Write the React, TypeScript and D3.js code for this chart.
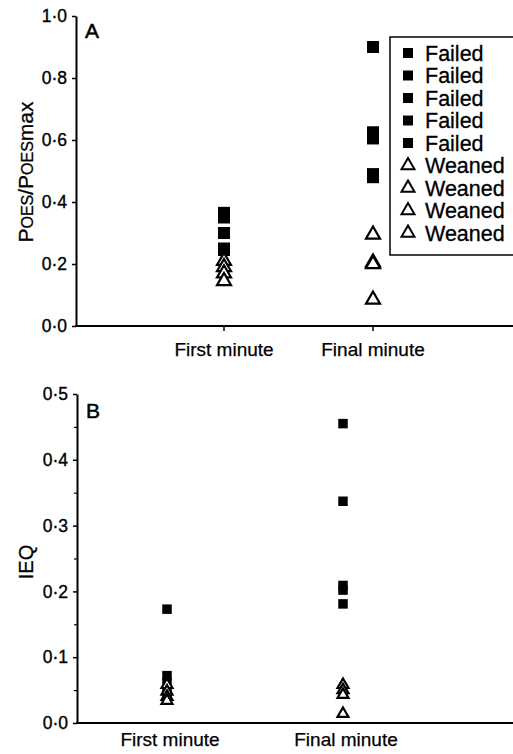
import React, { useEffect, useRef } from 'react';
import * as d3 from 'd3';

const categories = ['First minute', 'Final minute'];

// Panel A: Poes/Poesmax
const poesFailedFirst = [0.365, 0.35, 0.30, 0.25, 0.245];
const poesWeanedFirst = [0.21, 0.19, 0.17, 0.145];
const poesFailedFinal = [0.90, 0.625, 0.605, 0.49, 0.48];
const poesWeanedFinal = [0.295, 0.205, 0.20, 0.085];

// Panel B: IEQ
const ieqFailedFirst = [0.173, 0.072, 0.062, 0.05, 0.04];
const ieqWeanedFirst = [0.058, 0.048, 0.04, 0.034];
const ieqFailedFinal = [0.455, 0.337, 0.209, 0.202, 0.181];
const ieqWeanedFinal = [0.058, 0.05, 0.043, 0.014];

const legendLabels = ['Failed', 'Failed', 'Failed', 'Failed', 'Failed', 'Weaned', 'Weaned', 'Weaned', 'Weaned'];

const FONT = '"Liberation Sans", Arial, Helvetica, sans-serif';
const dotFmt = (d: any) => d3.format('.1f')(d).replace('.', '\u00b7');

const App = () => {
  const ref = useRef<SVGSVGElement>(null);

  useEffect(() => {
    if (!ref.current) return;
    const svg = d3.select(ref.current);
    svg.selectAll('*').remove();
    svg.attr('font-family', FONT);

    const drawPanel = (opts: any) => {
      const { x, y, failed, weaned, sq, tri, ticks, minor, xTicks, letter, letterY, labelY } = opts;
      const g = svg.append('g');

      // y axis
      const yAx = g.append('g')
        .attr('transform', `translate(${opts.axisX},0)`)
        .call(d3.axisLeft(y).tickValues(ticks).tickFormat(dotFmt).tickSize(4).tickSizeOuter(0).tickPadding(5));
      yAx.select('.domain').attr('stroke-width', 2);
      yAx.selectAll('.tick line').attr('stroke-width', 1.5);
      yAx.selectAll('.tick text')
        .attr('font-size', 17.5).attr('fill', '#000').attr('font-family', FONT)
        .attr('stroke', '#000').attr('stroke-width', 0.35);

      if (minor) {
        const mAx = g.append('g')
          .attr('transform', `translate(${opts.axisX},0)`)
          .call(d3.axisLeft(y).tickValues(minor).tickFormat(() => '').tickSize(3).tickSizeOuter(0));
        mAx.select('.domain').remove();
        mAx.selectAll('.tick line').attr('stroke-width', 1.2);
      }

      // x axis
      const y0 = y(0);
      g.append('line')
        .attr('x1', opts.axisX - 1).attr('x2', 513)
        .attr('y1', y0).attr('y2', y0)
        .attr('stroke', '#000').attr('stroke-width', 2);
      if (xTicks) {
        g.selectAll('.xt').data(categories).enter().append('line')
          .attr('x1', d => x(d)).attr('x2', d => x(d))
          .attr('y1', y0).attr('y2', y0 + 5)
          .attr('stroke', '#000').attr('stroke-width', 1.5);
      }
      g.selectAll('.xl').data(categories).enter().append('text')
        .attr('x', d => x(d) + opts.labelShift).attr('y', labelY)
        .attr('text-anchor', 'middle').attr('font-size', 19).attr('fill', '#000')
        .attr('stroke', '#000').attr('stroke-width', 0.25)
        .text(d => d);

      g.append('text').attr('x', opts.axisX + 9).attr('y', letterY)
        .attr('font-size', 21).attr('fill', '#000')
        .attr('stroke', '#000').attr('stroke-width', 0.5)
        .text(letter);

      const square = d3.symbol(d3.symbolSquare, sq * sq);
      const triangle = d3.symbol(d3.symbolTriangle, (Math.sqrt(3) / 4) * tri * tri);

      categories.forEach((c, i) => {
        g.selectAll(null).data(failed[i]).enter().append('path')
          .attr('d', square)
          .attr('transform', (v: number) => `translate(${x(c)},${y(v)})`)
          .attr('fill', '#000');
      });
      categories.forEach((c, i) => {
        g.selectAll(null).data(weaned[i]).enter().append('path')
          .attr('d', triangle)
          .attr('transform', (v: number) => `translate(${x(c)},${y(v)})`)
          .attr('fill', '#fff').attr('stroke', '#000').attr('stroke-width', 2.2);
      });
    };

    // Panel A
    const xA = d3.scalePoint().domain(categories).range([224, 373]);
    const yA = d3.scaleLinear().domain([0, 1]).range([326, 16]);
    drawPanel({
      x: xA, y: yA, axisX: 76,
      failed: [poesFailedFirst, poesFailedFinal],
      weaned: [poesWeanedFirst, poesWeanedFinal],
      sq: 12, tri: 14,
      ticks: [0, 0.2, 0.4, 0.6, 0.8, 1.0],
      xTicks: true, letter: 'A', letterY: 38, labelY: 356, labelShift: 0,
    });

    // Panel B
    const xB = d3.scalePoint().domain(categories).range([167, 343]);
    const yB = d3.scaleLinear().domain([0, 0.5]).range([723, 394]);
    drawPanel({
      x: xB, y: yB, axisX: 77,
      failed: [ieqFailedFirst, ieqFailedFinal],
      weaned: [ieqWeanedFirst, ieqWeanedFinal],
      sq: 9.5, tri: 11,
      ticks: [0, 0.1, 0.2, 0.3, 0.4, 0.5],
      minor: [0.05, 0.15, 0.25, 0.35, 0.45],
      xTicks: false, letter: 'B', letterY: 418, labelY: 746, labelShift: 3,
    });

    // y axis titles
    const tA = svg.append('text')
      .attr('transform', 'translate(33,172) rotate(-90)')
      .attr('text-anchor', 'middle').attr('fill', '#000')
      .attr('stroke', '#000').attr('stroke-width', 0.3);
    [['P', 21], ['OES', 16], ['/P', 21], ['OES', 16], ['max', 21]].forEach(([t, s]) => {
      tA.append('tspan').attr('font-size', s as number).text(t as string);
    });
    svg.append('text')
      .attr('transform', 'translate(33,562) rotate(-90)')
      .attr('text-anchor', 'middle').attr('font-size', 20).attr('fill', '#000')
      .attr('stroke', '#000').attr('stroke-width', 0.3)
      .text('IEQ');

    // legend
    const lg = svg.append('g');
    lg.append('rect')
      .attr('x', 390).attr('y', 37).attr('width', 140).attr('height', 218)
      .attr('fill', '#fff').attr('stroke', '#000').attr('stroke-width', 1.5);
    const ly = d3.scaleLinear().domain([0, legendLabels.length - 1]).range([53, 233]);
    const lsq = d3.symbol(d3.symbolSquare, 100);
    const ltri = d3.symbol(d3.symbolTriangle, (Math.sqrt(3) / 4) * 13 * 13);
    const items = lg.selectAll('.li').data(legendLabels).enter().append('g')
      .attr('transform', (d, i) => `translate(0,${ly(i)})`);
    items.append('path')
      .attr('d', d => (d === 'Failed' ? lsq() : ltri()))
      .attr('transform', 'translate(408,0)')
      .attr('fill', d => (d === 'Failed' ? '#000' : '#fff'))
      .attr('stroke', d => (d === 'Failed' ? 'none' : '#000'))
      .attr('stroke-width', 2);
    items.append('text')
      .attr('x', 425).attr('dy', '0.36em')
      .attr('font-size', 21.5).attr('fill', '#000')
      .attr('stroke', '#000').attr('stroke-width', 0.3)
      .text(d => d);
  }, []);

  return (
    <svg ref={ref} width={513} height={754}
      style={{ position: 'absolute', left: 0, top: 0, background: '#fff' }} />
  );
};

export default App;
